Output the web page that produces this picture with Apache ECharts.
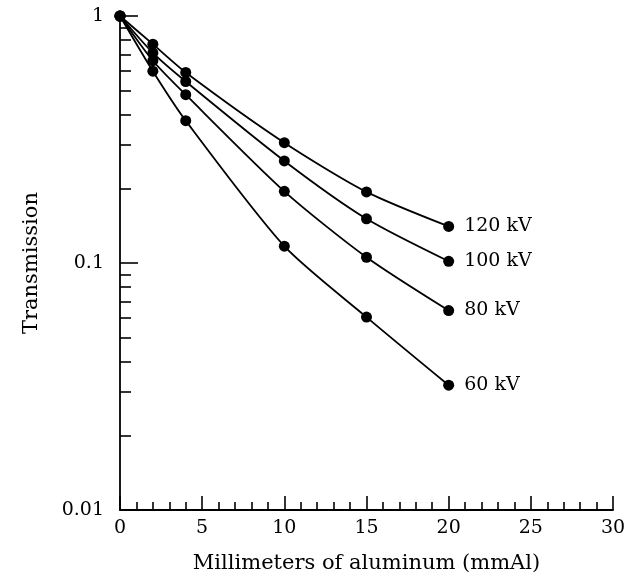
<!DOCTYPE html>
<html>
<head>
<meta charset="utf-8">
<script src="https://cdn.jsdelivr.net/npm/echarts@6/dist/echarts.min.js"></script>
<style>html,body{margin:0;padding:0;background:#fff}#c{width:637px;height:579px}</style>
</head>
<body>
<div id="c"></div>
<script>
var thickness = [0, 2, 4, 10, 15, 20];
var kv120 = [1.0, 0.769, 0.591, 0.307, 0.194, 0.1406];
var kv100 = [1.0, 0.709, 0.543, 0.259, 0.151, 0.1016];
var kv80  = [1.0, 0.659, 0.480, 0.195, 0.1055, 0.0642];
var kv60  = [1.0, 0.598, 0.377, 0.117, 0.0604, 0.032];
var seriesNames = ['120 kV', '100 kV', '80 kV', '60 kV'];
var yMajorTicks = [0.01, 0.1, 1];
var yMinorTicks = [0.02,0.03,0.04,0.05,0.06,0.07,0.08,0.09,0.2,0.3,0.4,0.5,0.6,0.7,0.8,0.9];
var xMajorTicks = [0, 5, 10, 15, 20, 25, 30];
var xMinorTicks = [];
for (var i = 0; i <= 30; i++) { if (i % 5 !== 0) xMinorTicks.push(i); }

var FONT = 'DejaVu Serif';
var chart = echarts.init(document.getElementById('c'), null, {renderer: 'canvas'});

function mk(name, vals) {
  var data = thickness.map(function (x, i) {
    var d = {value: [x, vals[i]]};
    if (i === thickness.length - 1) {
      d.label = {show: true, position: 'right', distance: 10, formatter: name,
        color: '#000', fontFamily: FONT, fontSize: 19};
    }
    return d;
  });
  return {
    type: 'line', name: name, data: data, xAxisIndex: 0, yAxisIndex: 0,
    smooth: 0.25, symbol: 'circle', symbolSize: 11, clip: false,
    lineStyle: {color: '#000', width: 1.8},
    itemStyle: {color: '#000'},
    label: {show: false},
    emphasis: {disabled: true}, animation: false
  };
}

var axisLine = {show: true, lineStyle: {color: '#000', width: 1.8}};
var option = {
  backgroundColor: '#fff',
  animation: false,
  grid: {left: 120, right: 24, top: 16, bottom: 67, containLabel: false},
  xAxis: [
    {type: 'value', min: 0, max: 30, position: 'bottom',
     axisLine: axisLine, splitLine: {show: false},
     axisTick: {show: true, inside: true, length: 14, lineStyle: {color: '#000', width: 1.6}, customValues: xMajorTicks},
     axisLabel: {show: true, customValues: xMajorTicks, color: '#000', fontFamily: FONT, fontSize: 19, margin: 9},
     name: 'Millimeters of aluminum (mmAl)', nameLocation: 'middle', nameGap: 43,
     nameTextStyle: {color: '#000', fontFamily: FONT, fontSize: 21}},
    {type: 'value', min: 0, max: 30, position: 'bottom', gridIndex: 0,
     axisLine: {show: false}, splitLine: {show: false},
     axisTick: {show: true, inside: true, length: 8, lineStyle: {color: '#000', width: 1.6}, customValues: xMinorTicks},
     axisLabel: {show: false}}
  ],
  yAxis: [
    {type: 'log', logBase: 10, min: 0.01, max: 1, position: 'left',
     axisLine: axisLine, splitLine: {show: false},
     axisTick: {show: true, inside: true, length: 18, lineStyle: {color: '#000', width: 1.6}, customValues: yMajorTicks},
     axisLabel: {show: true, customValues: yMajorTicks, color: '#000', fontFamily: FONT, fontSize: 19, margin: 16,
       formatter: function (v) { return String(v); }},
     name: 'Transmission', nameLocation: 'middle', nameGap: 78, nameRotate: 90,
     nameTextStyle: {color: '#000', fontFamily: FONT, fontSize: 21}},
    {type: 'log', logBase: 10, min: 0.01, max: 1, position: 'left', gridIndex: 0,
     axisLine: {show: false}, splitLine: {show: false},
     axisTick: {show: true, inside: true, length: 11, lineStyle: {color: '#000', width: 1.6}, customValues: yMinorTicks},
     axisLabel: {show: false}}
  ],
  series: [mk(seriesNames[0], kv120), mk(seriesNames[1], kv100), mk(seriesNames[2], kv80), mk(seriesNames[3], kv60)]
};
chart.setOption(option);
</script>
</body>
</html>
